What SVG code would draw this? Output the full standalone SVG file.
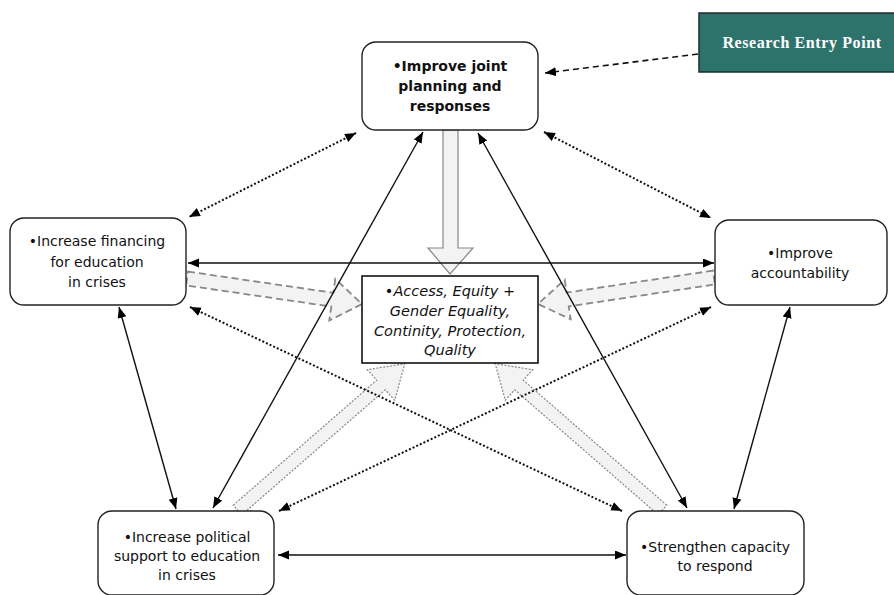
<svg xmlns="http://www.w3.org/2000/svg" width="894" height="595" viewBox="0 0 894 595">
<style>
.node{fill:#fff;stroke:#222;stroke-width:1.4}
.t{font-family:"DejaVu Sans","Liberation Sans",sans-serif;font-size:14px;fill:#111;text-anchor:middle}
.b{font-weight:bold;font-size:14px}
.i{font-style:italic;font-size:14.5px}
.fat{fill:#f3f3f3;stroke:#888;stroke-width:1.2}
.fd{stroke-dasharray:7,4;stroke-width:1.8}
.fo{stroke-dasharray:2,1.5}
.solid{fill:none;stroke:#111;stroke-width:1.4}
.dot{fill:none;stroke:#111;stroke-width:2;stroke-dasharray:2,2}
.dash{fill:none;stroke:#111;stroke-width:1.6;stroke-dasharray:6,4}
</style>
<defs>
<marker id="ah" markerUnits="userSpaceOnUse" markerWidth="12" markerHeight="10" refX="11" refY="4.5" orient="auto-start-reverse">
<path d="M0,0 L11,4.5 L0,9 z" fill="#000"/>
</marker>
</defs>
<rect width="894" height="595" fill="#fff"/>
<g id="fat-arrows">
<polygon class="fat" points="443,130 458,130 458,248 473,248 450,274 428,248 443,248"/>
<polygon class="fat fd" points="188,271.6 333.3,292.8 335.3,278.9 362,304 329.3,320.5 331.3,306.6 186,285.4"/>
<polygon class="fat fd" points="713,270.6 566.7,292.6 564.7,279.7 538,304 570.7,319.3 568.7,306.4 715,284.4"/>
<polygon class="fat fo" points="233.2,505.2 376.7,380.2 367.3,369.7 404.8,363.7 394.7,400.3 385.3,389.8 241.8,514.8"/>
<polygon class="fat fo" points="666.8,505.2 523.3,380.2 532.7,369.7 495.2,363.7 505.3,400.3 514.7,389.8 658.2,514.8"/>
</g>
<g id="connectors">
<line class="dash" x1="698" y1="54" x2="545" y2="73" marker-end="url(#ah)"/>
<line class="dot" x1="356" y1="133" x2="189" y2="217" marker-start="url(#ah)" marker-end="url(#ah)"/>
<line class="dot" x1="544" y1="132" x2="711" y2="218" marker-start="url(#ah)" marker-end="url(#ah)"/>
<line class="solid" x1="188" y1="263" x2="714" y2="263" marker-start="url(#ah)" marker-end="url(#ah)"/>
<line class="solid" x1="423" y1="132" x2="213" y2="508" marker-start="url(#ah)" marker-end="url(#ah)"/>
<line class="solid" x1="478" y1="133" x2="687" y2="508" marker-start="url(#ah)" marker-end="url(#ah)"/>
<line class="dot" x1="190" y1="307" x2="622" y2="511" marker-start="url(#ah)" marker-end="url(#ah)"/>
<line class="dot" x1="711" y1="307" x2="279" y2="511" marker-start="url(#ah)" marker-end="url(#ah)"/>
<line class="solid" x1="119" y1="307" x2="176" y2="509" marker-start="url(#ah)" marker-end="url(#ah)"/>
<line class="solid" x1="790" y1="307" x2="734" y2="509" marker-start="url(#ah)" marker-end="url(#ah)"/>
<line class="solid" x1="278" y1="555" x2="626" y2="555" marker-start="url(#ah)" marker-end="url(#ah)"/>
</g>
<g id="research">
<rect x="699" y="13" width="210" height="59" fill="#2e736b" stroke="#1a2e2b" stroke-width="1.5"/>
<text x="802" y="48" font-family="'Liberation Serif','Times New Roman',serif" font-size="16" font-weight="bold" letter-spacing="0.6" fill="#fff" text-anchor="middle">Research Entry Point</text>
</g>
<g id="top">
<rect class="node" x="362" y="42" width="176" height="88" rx="14"/>
<text class="t b" x="450" y="71">•Improve joint</text>
<text class="t b" x="450" y="91">planning and</text>
<text class="t b" x="450" y="111">responses</text>
</g>
<g id="left">
<rect class="node" x="10" y="218" width="176" height="87" rx="14"/>
<text class="t" x="97" y="246">•Increase financing</text>
<text class="t" x="97" y="267">for education</text>
<text class="t" x="97" y="287">in crises</text>
</g>
<g id="right">
<rect class="node" x="715" y="220" width="172" height="85" rx="14"/>
<text class="t" x="800" y="258">•Improve</text>
<text class="t" x="800" y="278">accountability</text>
</g>
<g id="center">
<rect x="362" y="276" width="176" height="87" fill="#fff" stroke="#111" stroke-width="1.6"/>
<text class="t i" x="450" y="296">•Access, Equity +</text>
<text class="t i" x="450" y="316">Gender Equality,</text>
<text class="t i" x="450" y="336">Continity, Protection,</text>
<text class="t i" x="450" y="355">Quality</text>
</g>
<g id="bottom-left">
<rect class="node" x="98" y="511" width="176" height="84" rx="14"/>
<text class="t" x="187" y="542">•Increase political</text>
<text class="t" x="187" y="561">support to education</text>
<text class="t" x="187" y="580">in crises</text>
</g>
<g id="bottom-right">
<rect class="node" x="627" y="511" width="177" height="84" rx="14"/>
<text class="t" x="715" y="552">•Strengthen capacity</text>
<text class="t" x="715" y="571">to respond</text>
</g>
</svg>
